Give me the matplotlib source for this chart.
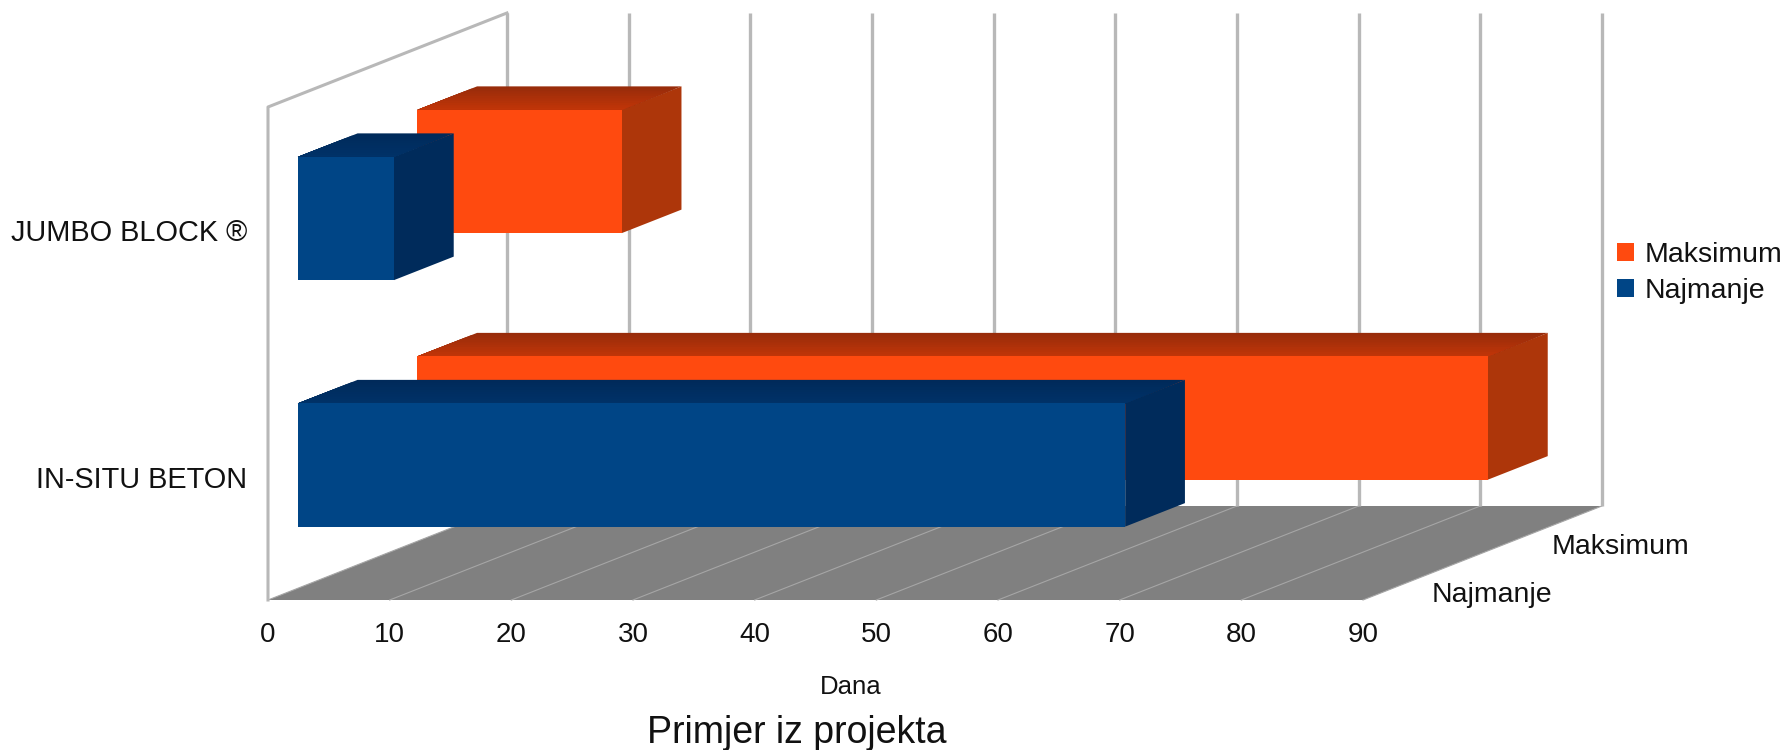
import matplotlib
matplotlib.use("Agg")
import matplotlib.pyplot as plt
from matplotlib.patches import Polygon, Patch

plt.rcParams['font.family'] = ['Liberation Sans', 'DejaVu Sans']

# data
categories = ["IN-SITU BETON", "JUMBO BLOCK ®"]
series_names = ["Najmanje", "Maksimum"]
najmanje = [68, 7.9]
maksimum = [88, 16.8]
x_ticks = [0, 10, 20, 30, 40, 50, 60, 70, 80, 90]

# colours: front, top (back -> front), side
NAJ_COLORS = ("#004586", "#002a5a", "#003268", "#002b5b")
MAX_COLORS = ("#ff4a0f", "#982c0a", "#c03508", "#ad360a")
GRID = "#b8b8b8"
FLOOR_GRID = "#a6a6a6"
FLOOR = "#808080"

# oblique projection, one depth step (one series) in data units
DEPTH_X = 119.5 / 12.17
DEPTH_Y = 47.0 / 246.5
BAR_H = 0.5
BAR_D = 0.5


def project(v, c, s):
    return (v + s * DEPTH_X, c + s * DEPTH_Y)


def face(ax, pts, color, z):
    ax.add_patch(Polygon(pts, closed=True, facecolor=color, edgecolor="none", clip_on=False, zorder=z))


def blend(c1, c2, t):
    a = matplotlib.colors.to_rgb(c1)
    b = matplotlib.colors.to_rgb(c2)
    return tuple(a[i] + (b[i] - a[i]) * t for i in range(3))


def draw_bar(ax, value, cat_idx, series_idx, colors, z):
    """One 3D bar: side, top (with a small gradient) and front faces."""
    c0 = cat_idx + 0.5 - BAR_H / 2
    c1 = c0 + BAR_H
    s0 = series_idx + 0.5 - BAR_D / 2
    s1 = s0 + BAR_D
    front, top_back, top_front, side = colors

    face(ax, [project(value, c0, s0), project(value, c0, s1), project(value, c1, s1), project(value, c1, s0)], side, z)
    # each strip runs down to the front edge and the next one paints over it, so no seams show
    n = 10
    for i in range(n):
        a = s1 - (s1 - s0) * i / n
        face(ax, [project(0, c1, a), project(value, c1, a), project(value, c1, s0), project(0, c1, s0)],
             blend(top_back, top_front, i / (n - 1)), z)
    face(ax, [project(0, c0, s0), project(value, c0, s0), project(value, c1, s0), project(0, c1, s0)], front, z)


fig = plt.figure(figsize=(17.87, 7.5), dpi=100)
ax = fig.add_axes([268 / 1787, 150 / 750, 1095 / 1787, 493 / 750])
ax.set_xlim(0, 90)
ax.set_ylim(0, 2)
for sp in ax.spines.values():
    sp.set_visible(False)

depth = len(series_names)

# floor
face(ax, [project(0, 0, 0), project(90, 0, 0), project(90, 0, depth), project(0, 0, depth)], FLOOR, 1)
for v in x_ticks:
    p0 = project(v, 0, 0)
    p1 = project(v, 0, depth)
    ax.plot([p0[0], p1[0]], [p0[1], p1[1]], color=FLOOR_GRID, lw=0.8, clip_on=False, zorder=1.5)
    p2 = project(v, 2, depth)
    ax.plot([p1[0], p2[0]], [p1[1], p2[1]], color=GRID, lw=2.4, clip_on=False, zorder=1.5,
            solid_capstyle="butt")

# left wall outline
wall = [project(0, 0, 0), project(0, 2, 0), project(0, 2, depth)]
ax.plot([p[0] for p in wall], [p[1] for p in wall], color=GRID, lw=2.2, clip_on=False, zorder=1.5)

# bars, back series first
for i in range(len(categories)):
    draw_bar(ax, maksimum[i], i, 1, MAX_COLORS, 2 + (1 - i) * 0.1)
for i in range(len(categories)):
    draw_bar(ax, najmanje[i], i, 0, NAJ_COLORS, 3 + (1 - i) * 0.1)

# axis labels
ax.set_xticks(x_ticks)
ax.set_xticklabels([str(t) for t in x_ticks], fontsize=20)
ax.set_yticks([i + 0.5 for i in range(len(categories))])
ax.set_yticklabels(categories, fontsize=20.8)
ax.tick_params(axis="x", length=0, pad=16, colors="#111111")
ax.tick_params(axis="y", length=0, pad=15, colors="#111111")

# depth axis labels
for i, name in enumerate(series_names):
    ax.annotate(name, xy=project(90, 0, i + 0.5), xytext=(9, -18), textcoords="offset pixels",
                fontsize=20.5, ha="left", va="center", color="#111111", annotation_clip=False)

fig.text(851 / 1787, 1 - 687 / 750, "Dana", fontsize=18.5, ha="center", va="center", color="#111111")
fig.text(797 / 1787, 1 - 733 / 750, "Primjer iz projekta", fontsize=27, ha="center", va="center", color="#111111")

handles = [Patch(facecolor=MAX_COLORS[0], label="Maksimum"), Patch(facecolor=NAJ_COLORS[0], label="Najmanje")]
fig.legend(handles=handles, loc="center left", bbox_to_anchor=(1608 / 1787, 1 - 273 / 750), frameon=False,
           fontsize=20.5, handlelength=0.6, handleheight=0.6, handletextpad=0.4, labelspacing=0.38,
           borderpad=0, borderaxespad=0.3, labelcolor="#111111")

fig.savefig("out.png", dpi=100)
